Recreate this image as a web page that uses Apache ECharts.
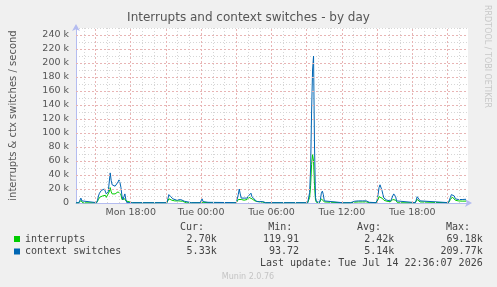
<!DOCTYPE html>
<html><head><meta charset="utf-8">
<script src="https://cdn.jsdelivr.net/npm/echarts@6/dist/echarts.min.js"></script>
<style>html,body{margin:0;padding:0;background:#f0f0f0}#c{width:497px;height:287px}</style>
</head><body><div id="c"></div>
<script>
// time: minutes since Mon 00:00 (5-minute samples)
const times = [800,815,820,825,830,835,905,910,915,920,925,930,935,940,945,950,955,960,965,970,975,980,985,990,995,1000,1005,1010,1015,1020,1025,1030,1035,1040,1045,1050,1055,1060,1090,1095,1100,
1265,1270,1275,1280,1285,1290,1295,1305,1315,1325,1335,1345,1355,1365,1390,1395,1400,1435,1440,1445,1450,1455,1475,1480,
1620,1625,1630,1635,1640,1645,1650,1655,1660,1665,1670,1675,1680,1685,1690,1695,1700,1705,1710,1715,1725,1740,1755,1765,1770,
1985,1990,1995,2000,2005,2010,2015,2020,2025,2030,2040,2045,2050,2055,2060,2065,2070,2075,
2165,2170,2175,2205,2210,2215,2225,2235,2245,2255,2265,2275,2285,2295,2300,2305,2335,2340,2345,2350,2355,2360,2365,2370,2375,2380,2390,2400,2410,2415,2420,2425,2430,2435,2440,2445,
2535,2540,2545,2550,2555,2560,2565,2705,2710,2715,2720,2725,2730,2735,2740,2745,2755,2765,2775,2785,2795];
// values in thousands per second
const ctxSwitches = [0.3,0.5,4,7,3,0.4,0.5,4,10,14,16,18,19,17,20,18,13,12,16,30,43,32,26,25,27,24,25,26,30,33,29,22,10,5,9,13,5,0.5,0.5,1.5,0.4,
0.5,6,12,14,9,7,6,5,4,5,5,4,2.5,0.5,0.5,2.5,0.5,0.5,3,6,2,0.5,1,0.4,
0.5,3,12,20,13,7,5,6,7,8,6,7,9,11,13,14,9,8,6,4,2,2,2,1.5,0.5,
0.5,3,15,50,130,190,210,80,8,2,1,0.8,5,14,17,12,3,0.5,
0.4,1.5,0.4,0.5,2,3,2.5,3,3,3.5,3,3.5,3,3.5,1,0.5,0.5,4,12,22,26,24,18,12,7,5,4,3,3,5,10,13,14,9,3,0.5,
0.5,4,9,11,8,3,0.5,0.5,3,8,12,14,13,10,6,5,5,5.5,5,5.5,5.33];
const interrupts = [0.2,0.3,2,3.5,1.5,0.2,0.3,2,5,8,9,10,10,9,12,11,8,8,10,16,22,16,13,13,14,13,13,14,16,17,15,12,5,3,5,6,3,0.3,0.3,0.8,0.3,
0.3,3,6,8,5,4,4,3,3,3,3,2.5,1.5,0.3,0.3,1.5,0.3,0.3,2,3,1,0.3,0.5,0.3,
0.3,2,5,6,6,5,4,4,4,5,4,5,6,8,9,8,6,6,5,3,1.5,1.5,1.3,1,0.3,
0.3,2,8,25,55,69,60,25,4,1,0.5,0.4,2,6,7,5,1.5,0.3,
0.3,0.8,0.3,0.3,1,1.5,1.2,1.5,1.5,1.5,1.5,1.5,1.5,1.5,0.5,0.3,0.3,2,5,9,11,10,7,5,4,3,2.5,2,2,3,5,7,7,4,1.5,0.3,
0.3,2,5,6,4,1.5,0.3,0.3,2,5,7,8.5,8,6,4,3,3,2.8,2.7,2.8,2.70];
const xMin = 800, xMax = 2805;
const xLabelTimes = [1080, 1440, 1800, 2160, 2520];
const seriesNames = ['interrupts', 'context switches'];
const statHeaders = ['Cur:', 'Min:', 'Avg:', 'Max:'];
const interruptStats = ['2.70k', '119.91', '2.42k', '69.18k'];
const ctxStats = ['5.33k', '93.72', '5.14k', '209.77k'];
const lastUpdate = 'Last update: Tue Jul 14 22:36:07 2026';

const RED = '#e8b4b4', GREY = '#d6d6d6';
const vLines = [];
for (let m = 840; m <= xMax; m += 60) {
  const major = m % 180 === 0;
  vLines.push({xAxis: m, lineStyle: {color: major ? RED : GREY, type: major ? [2, 2] : [1, 2], width: 1}});
}
const hLines = [];
for (let v = 20; v <= 240; v += 20) hLines.push({yAxis: v, lineStyle: {color: RED, type: [2, 2], width: 1}});

function fmtTime(m) {
  const d = m < 1440 ? 'Mon' : 'Tue';
  const mm = m % 1440;
  const h = Math.floor(mm / 60), mi = mm % 60;
  return d + ' ' + String(h).padStart(2, '0') + ':' + String(mi).padStart(2, '0');
}
const mono = '"DejaVu Sans Mono", monospace';
const txtCol = '#444';
const graphics = [];
const colRight = [204, 292.3, 381, 470];
const valRight = [216.7, 299, 394.3, 482.7];
statHeaders.forEach((t, i) => graphics.push({type: 'text', x: colRight[i], y: 227, style: {text: t, align: 'right', verticalAlign: 'middle', fontSize: 10, fontFamily: mono, fill: txtCol}}));
interruptStats.forEach((t, i) => graphics.push({type: 'text', x: valRight[i], y: 239, style: {text: t, align: 'right', verticalAlign: 'middle', fontSize: 10, fontFamily: mono, fill: txtCol}}));
ctxStats.forEach((t, i) => graphics.push({type: 'text', x: valRight[i], y: 251.5, style: {text: t, align: 'right', verticalAlign: 'middle', fontSize: 10, fontFamily: mono, fill: txtCol}}));
graphics.push({type: 'text', x: 482.7, y: 263.5, style: {text: lastUpdate, align: 'right', verticalAlign: 'middle', fontSize: 10, fontFamily: mono, fill: txtCol}});
graphics.push({type: 'text', x: 248, y: 276.5, style: {text: 'Munin 2.0.76', align: 'center', verticalAlign: 'middle', fontSize: 8, fontFamily: 'DejaVu Sans', fill: '#c4c4c4'}});
graphics.push({type: 'text', x: 487, y: 5, rotation: -Math.PI / 2, style: {text: 'RRDTOOL / TOBI OETIKER', align: 'left', verticalAlign: 'middle', fontSize: 8, fontFamily: 'DejaVu Sans', fill: '#c8c8c8'}});

const chart = echarts.init(document.getElementById('c'), null, {renderer: 'canvas'});
chart.setOption({
  animation: false,
  backgroundColor: '#f0f0f0',
  title: {text: 'Interrupts and context switches - by day', left: 'center', top: 12, padding: 0,
    textStyle: {fontFamily: 'DejaVu Sans', fontSize: 12, fontWeight: 'normal', color: '#555'}},
  legend: {orient: 'vertical', left: 14, top: 233, padding: 0, itemWidth: 6, itemHeight: 6, itemGap: 0.5, icon: 'rect',
    data: seriesNames, textStyle: {fontFamily: mono, fontSize: 10, color: txtCol, lineHeight: 12}},
  grid: {left: 67, right: 29, top: 28, bottom: 84, show: true, backgroundColor: '#ffffff', borderWidth: 0},
  xAxis: {type: 'value', min: xMin, max: xMax,
    axisLine: {lineStyle: {color: '#b4bcf0'}, symbol: ['none', 'arrow'], symbolSize: [6, 7], symbolOffset: [0, 4]},
    axisTick: {show: false}, splitLine: {show: false},
    axisLabel: {customValues: xLabelTimes, formatter: fmtTime, fontFamily: 'DejaVu Sans', fontSize: 9.5, color: '#555', margin: 5}},
  yAxis: {type: 'value', min: 0, max: 250, interval: 10,
    name: 'interrupts & ctx switches / second', nameLocation: 'middle', nameGap: 58,
    nameTextStyle: {fontFamily: 'DejaVu Sans', fontSize: 10, color: '#555'},
    axisLine: {show: true, lineStyle: {color: '#b4bcf0'}, symbol: ['none', 'arrow'], symbolSize: [6, 7], symbolOffset: [0, 4]},
    axisTick: {show: false},
    splitLine: {show: true, lineStyle: {color: ['transparent', GREY], type: [1, 2]}},
    axisLabel: {formatter: v => v % 20 === 0 ? (v === 0 ? '0' : v + ' k') : '', fontFamily: 'DejaVu Sans', fontSize: 9.5, color: '#555', margin: 7}},
  series: [
    {type: 'line', name: 'grid', data: [[xMin, 0]], showSymbol: false, silent: true, lineStyle: {opacity: 0}, z: 1,
      markLine: {silent: true, symbol: ['none', 'none'], label: {show: false}, data: vLines.concat(hLines)}},
    {type: 'line', name: seriesNames[0], data: times.map((t, i) => [t, interrupts[i]]), showSymbol: false, z: 3,
      color: '#00cc00', lineStyle: {width: 1, color: '#00cc00'}},
    {type: 'line', name: seriesNames[1], data: times.map((t, i) => [t, ctxSwitches[i]]), showSymbol: false, z: 4,
      color: '#0066b3', lineStyle: {width: 1, color: '#0066b3'}}
  ],
  graphic: graphics
});
</script></body></html>
